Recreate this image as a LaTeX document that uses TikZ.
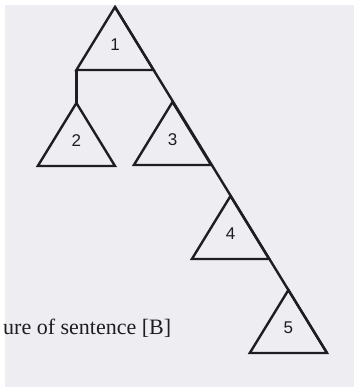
\documentclass[tikz,border=0pt]{standalone}
\usepackage{fontspec}
\setmainfont{Liberation Serif}
\newfontfamily\numfont{Liberation Sans}
\usetikzlibrary{calc}
\definecolor{paper}{RGB}{238,238,242}
\definecolor{ink}{HTML}{1E1E22}
\tikzset{
  edge/.style={draw=ink,line width=2.4pt,line join=miter},
  trilabel/.style={font=\numfont\fontsize{17}{17}\selectfont,text=ink,inner sep=0pt},
  caption/.style={font=\fontsize{22}{22}\selectfont,text=ink,inner sep=0pt,anchor=west},
}
% triangle: name, apex
\newcommand{\subtree}[3]{%
  \coordinate (#1-top) at (#2);
  \coordinate (#1-left) at ($(#2)+(-38.6,63)$);
  \coordinate (#1-right) at ($(#2)+(38.6,63)$);
  \draw[edge] (#1-top) -- (#1-left) -- (#1-right) -- cycle;
  \node[trilabel] (#1-lab) at ($(#2)+(0,38)$) {#3};
}

\begin{document}
\begin{tikzpicture}[x=1pt,y=-1pt]
    \useasboundingbox (0,0) rectangle (354,387);
    \fill[paper] (5,5) rectangle (354,387);

    \subtree{t1}{115,7}{1}
    \subtree{t2}{76.4,103}{2}
    \subtree{t3}{172.5,102}{3}
    \subtree{t4}{230.5,196}{4}
    \subtree{t5}{288.4,290}{5}

    % spine and the branch to 2
    \draw[edge] (t1-top) -- (t5-right);
    \draw[edge] (t1-left) -- (t2-top);

    \node[caption] (cap) at (3,328) {ure of sentence [B]};
\end{tikzpicture}
\end{document}
